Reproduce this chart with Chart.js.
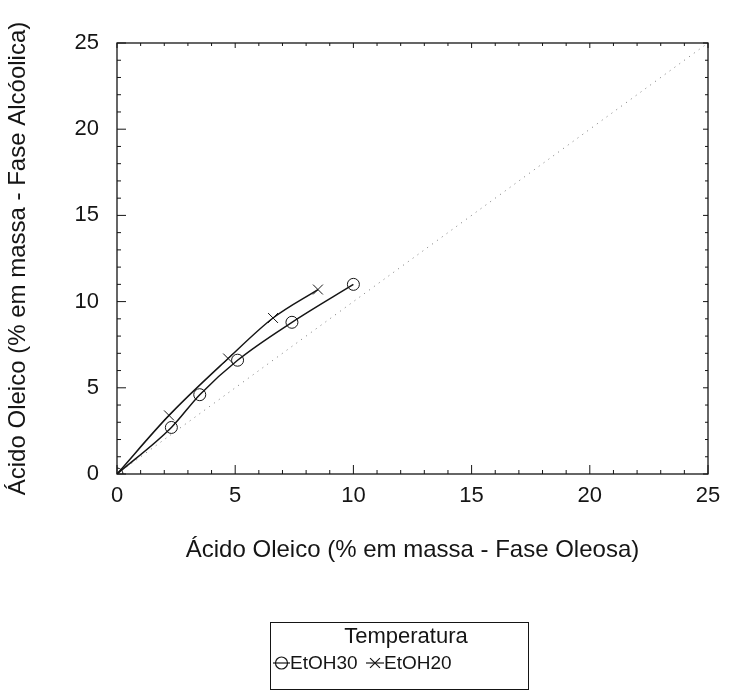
<!DOCTYPE html>
<html>
<head>
<meta charset="utf-8">
<script src="https://cdn.jsdelivr.net/npm/chart.js@4/dist/chart.umd.min.js"></script>
<style>
  html, body { margin: 0; padding: 0; background: #fff; }
  #wrap { width: 730px; height: 692px; }
</style>
</head>
<body>
<div id="wrap"><canvas id="c" width="730" height="692"></canvas></div>
<script>
// Oleic acid distribution: oil phase (x) vs alcohol phase (y), % by mass
const etoh30X = [0, 2.3, 3.5, 5.1, 7.4, 10.0];
const etoh30Y = [0, 2.7, 4.6, 6.6, 8.8, 11.0];
const etoh20X = [0, 2.2, 4.7, 6.6, 8.5];
const etoh20Y = [0, 3.4, 6.7, 9.05, 10.7];
const diagX = [0, 25];
const diagY = [0, 25];
const seriesNames = ['EtOH30', 'EtOH20'];
const legendTitle = 'Temperatura';
const xTitle = 'Ácido Oleico (% em massa - Fase Oleosa)';
const yTitle = 'Ácido Oleico (% em massa - Fase Alcóolica)';
const axisMin = 0, axisMax = 25, majorStep = 5, minorStep = 1;

const INK = '#151515';
const FONT = "'Liberation Sans', Arial, sans-serif";

const toPts = (xs, ys) => xs.map((x, i) => ({ x, y: ys[i] }));

// Inward ticks on all four sides plus the closing frame
const frameTicks = {
  id: 'frameTicks',
  afterDraw(chart) {
    const { ctx, chartArea: a, scales: { x, y } } = chart;
    ctx.save();
    ctx.strokeStyle = INK;
    ctx.lineWidth = 1.3;
    ctx.strokeRect(a.left, a.top, a.right - a.left, a.bottom - a.top);
    ctx.lineWidth = 1;
    for (let v = axisMin; v <= axisMax + 1e-9; v += minorStep) {
      const major = Math.abs(v % majorStep) < 1e-9;
      const len = major ? 9 : 4;
      const px = x.getPixelForValue(v);
      const py = y.getPixelForValue(v);
      ctx.beginPath();
      ctx.moveTo(px, a.bottom); ctx.lineTo(px, a.bottom - len);
      ctx.moveTo(px, a.top); ctx.lineTo(px, a.top + (major ? 5 : 3));
      ctx.moveTo(a.left, py); ctx.lineTo(a.left + len, py);
      ctx.moveTo(a.right, py); ctx.lineTo(a.right - (major ? 5 : 3), py);
      ctx.stroke();
    }
    ctx.restore();
  }
};

// Boxed legend with a title, drawn from the dataset styles
const boxLegend = {
  id: 'boxLegend',
  afterDraw(chart) {
    const { ctx } = chart;
    const ds = chart.data.datasets;
    ctx.save();
    ctx.strokeStyle = INK;
    ctx.lineWidth = 1;
    ctx.strokeRect(270.5, 622.5, 258, 67);
    ctx.fillStyle = INK;
    ctx.textBaseline = 'middle';
    ctx.textAlign = 'center';
    ctx.font = '22px ' + FONT;
    ctx.fillText(legendTitle, 406, 637);
    ctx.textAlign = 'left';
    ctx.font = '19px ' + FONT;
    const entries = [
      { d: ds[0], x0: 273, x1: 290, tx: 290 },
      { d: ds[1], x0: 366, x1: 384, tx: 384 }
    ];
    const ey = 663;
    entries.forEach(e => {
      ctx.strokeStyle = INK;
      ctx.lineWidth = 1.2;
      ctx.beginPath();
      ctx.moveTo(e.x0, ey); ctx.lineTo(e.x1, ey);
      ctx.stroke();
      ctx.fillStyle = 'rgba(0,0,0,0)';
      Chart.helpers.drawPoint(ctx, {
        pointStyle: e.d.pointStyle,
        radius: e.d.pointRadius,
        borderWidth: 1
      }, (e.x0 + e.x1) / 2, ey);
      ctx.fillStyle = INK;
      ctx.fillText(e.d.label, e.tx, ey + 1);
    });
    ctx.restore();
  }
};

new Chart(document.getElementById('c'), {
  type: 'scatter',
  data: {
    datasets: [
      {
        label: seriesNames[0],
        data: toPts(etoh30X, etoh30Y),
        showLine: true,
        borderColor: INK,
        backgroundColor: 'rgba(0,0,0,0)',
        borderWidth: 1.5,
        pointStyle: 'circle',
        pointRadius: 6,
        pointBorderWidth: 1,
        pointBorderColor: INK,
        tension: 0.3,
        cubicInterpolationMode: 'monotone'
      },
      {
        label: seriesNames[1],
        data: toPts(etoh20X, etoh20Y),
        showLine: true,
        borderColor: INK,
        backgroundColor: 'rgba(0,0,0,0)',
        borderWidth: 1.5,
        pointStyle: 'crossRot',
        pointRadius: 7,
        pointBorderWidth: 1,
        pointBorderColor: INK,
        tension: 0.3,
        cubicInterpolationMode: 'monotone'
      },
      {
        label: 'y = x',
        data: toPts(diagX, diagY),
        showLine: true,
        borderColor: '#777',
        borderWidth: 1,
        borderDash: [1, 5],
        pointRadius: 0
      }
    ]
  },
  options: {
    responsive: false,
    animation: false,
    devicePixelRatio: 1,
    layout: { padding: { left: 4, right: 22, top: 43, bottom: 127 } },
    plugins: {
      legend: { display: false },
      tooltip: { enabled: false }
    },
    scales: {
      x: {
        type: 'linear',
        min: axisMin, max: axisMax,
        afterFit(s) { s.height = 91; },
        grid: { display: false, drawTicks: false },
        border: { display: false },
        ticks: {
          stepSize: majorStep, padding: 9, color: INK,
          font: { family: FONT, size: 22 }, maxRotation: 0
        },
        title: {
          display: true, text: xTitle, color: INK,
          padding: 0, font: { family: FONT, size: 24 }
        }
      },
      y: {
        type: 'linear',
        min: axisMin, max: axisMax,
        afterFit(s) { s.width = 113; },
        grid: { display: false, drawTicks: false },
        border: { display: false },
        ticks: {
          stepSize: majorStep, padding: 18, color: INK,
          font: { family: FONT, size: 22 }
        },
        title: {
          display: true, text: yTitle, color: INK,
          padding: 0, font: { family: FONT, size: 24 }
        }
      }
    }
  },
  plugins: [frameTicks, boxLegend]
});
</script>
</body>
</html>
